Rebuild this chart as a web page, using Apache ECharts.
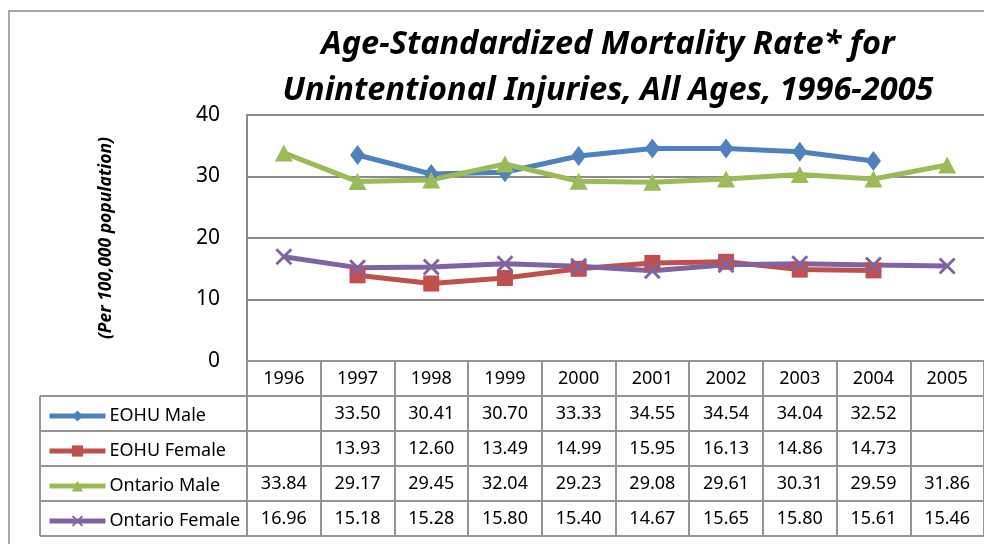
<!DOCTYPE html>
<html>
<head>
<meta charset="utf-8">
<script src="https://cdn.jsdelivr.net/npm/echarts@6/dist/echarts.min.js"></script>
<style>
  html, body { margin: 0; padding: 0; background: #fff; }
  #chart { width: 984px; height: 544px; }
</style>
</head>
<body>
<div id="chart"></div>
<script>
  const years = ['1996', '1997', '1998', '1999', '2000', '2001', '2002', '2003', '2004', '2005']
  const eohuMale = [null, 33.50, 30.41, 30.70, 33.33, 34.55, 34.54, 34.04, 32.52, null]
  const eohuFemale = [null, 13.93, 12.60, 13.49, 14.99, 15.95, 16.13, 14.86, 14.73, null]
  const ontarioMale = [33.84, 29.17, 29.45, 32.04, 29.23, 29.08, 29.61, 30.31, 29.59, 31.86]
  const ontarioFemale = [16.96, 15.18, 15.28, 15.80, 15.40, 14.67, 15.65, 15.80, 15.61, 15.46]
  const yTicks = [0, 10, 20, 30, 40]

  const seriesNames = ['EOHU Male', 'EOHU Female', 'Ontario Male', 'Ontario Female']
  const rows = [eohuMale, eohuFemale, ontarioMale, ontarioFemale]
  const colors = ['#4F81BD', '#C0504D', '#9BBB59', '#8064A2']

  const FONT = '"Noto Sans", "Open Sans", sans-serif'
  const GRID_LINE = '#8A8A8A'
  const TABLE_LINE = '#959595'
  const ROW_H = 35

  const xMark = 'path://M0,1.2 L1.2,0 L10,8.8 L8.8,10 Z M8.8,0 L10,1.2 L1.2,10 L0,8.8 Z'

  let chart = echarts.init(document.getElementById('chart'))

  // header axis: years, ticks drawn down through the table as column borders
  let xAxes = [{
    type: 'category',
    data: years,
    gridIndex: 0,
    position: 'bottom',
    boundaryGap: true,
    axisLine: { show: true, lineStyle: { color: TABLE_LINE, width: 2 } },
    axisTick: { show: true, interval: 0, length: ROW_H * 5, lineStyle: { color: TABLE_LINE, width: 2 } },
    axisLabel: { interval: 0, margin: 9, color: '#000', fontSize: 18, fontFamily: FONT }
  }]
  // one axis per table row, the row's values as its labels
  rows.forEach(function(row, k) {
    xAxes.push({
      type: 'category',
      data: years,
      gridIndex: 0,
      position: 'bottom',
      offset: ROW_H * (k + 1),
      axisLine: { show: true, lineStyle: { color: TABLE_LINE, width: 2 } },
      axisTick: { show: false },
      axisLabel: {
        interval: 0, margin: 9, color: '#000', fontSize: 18, fontFamily: FONT,
        formatter: function(v, i) { return row[i] == null ? '' : row[i].toFixed(2) }
      }
    })
  })
  // bottom border of the table
  xAxes.push({
    type: 'category',
    data: years,
    gridIndex: 0,
    position: 'bottom',
    offset: ROW_H * 5,
    axisLine: { show: true, lineStyle: { color: TABLE_LINE, width: 2 } },
    axisTick: { show: false },
    axisLabel: { show: false }
  })

  // legend cells of the table, left of the plot
  let tableLines = []
  for (let k = 1; k <= 5; k++) {
    tableLines.push({
      type: 'line',
      shape: { x1: 40, y1: 361 + ROW_H * k, x2: 247, y2: 361 + ROW_H * k },
      style: { stroke: TABLE_LINE, lineWidth: 2 }
    })
  }
  tableLines.push({
    type: 'line',
    shape: { x1: 40, y1: 361 + ROW_H, x2: 40, y2: 361 + ROW_H * 5 },
    style: { stroke: TABLE_LINE, lineWidth: 2 }
  })

  let option = {
    animation: false,
    backgroundColor: '#fff',
    title: {
      text: 'Age-Standardized Mortality Rate* for\nUnintentional Injuries, All Ages, 1996-2005',
      left: 603,
      top: 17,
      textAlign: 'center',
      textStyle: {
        fontFamily: FONT, fontSize: 32.5, fontWeight: 'bold', fontStyle: 'italic',
        color: '#000', lineHeight: 46
      }
    },
    graphic: [{
      type: 'rect',
      shape: { x: 9, y: 11, width: 1100, height: 600 },
      style: { fill: 'none', stroke: '#8A8A8A', lineWidth: 1.5 },
      silent: true
    }].concat(tableLines),
    legend: {
      orient: 'vertical',
      left: 42,
      top: 361 + ROW_H + 5,
      itemWidth: 56,
      itemHeight: 14,
      itemGap: 15,
      data: seriesNames,
      lineStyle: { width: 5 },
      textStyle: { fontFamily: FONT, fontSize: 18, color: '#000', lineHeight: 20, height: 20, padding: [0, 0, 0, -1] }
    },
    grid: {
      left: 247,
      top: 115,
      width: 750,
      height: 246
    },
    xAxis: xAxes,
    yAxis: {
      type: 'value',
      min: yTicks[0],
      max: yTicks[yTicks.length - 1],
      interval: 10,
      name: '(Per 100,000 population)',
      nameLocation: 'middle',
      nameRotate: 90,
      nameGap: 132,
      nameTextStyle: { fontFamily: FONT, fontSize: 17.5, fontWeight: 'bold', fontStyle: 'italic', color: '#000' },
      axisLine: { show: true, lineStyle: { color: GRID_LINE, width: 2 } },
      axisTick: { show: false },
      axisLabel: { margin: 27, color: '#000', fontSize: 21, fontFamily: FONT },
      splitLine: { show: true, lineStyle: { color: GRID_LINE, width: 2 } }
    },
    series: [
      {
        name: seriesNames[0], type: 'line', data: eohuMale,
        symbol: 'diamond', symbolSize: [15, 20],
        lineStyle: { color: colors[0], width: 5 },
        itemStyle: { color: colors[0] }
      },
      {
        name: seriesNames[1], type: 'line', data: eohuFemale,
        symbol: 'rect', symbolSize: 16,
        lineStyle: { color: colors[1], width: 5 },
        itemStyle: { color: colors[1] }
      },
      {
        name: seriesNames[2], type: 'line', data: ontarioMale,
        symbol: 'triangle', symbolSize: [18, 17],
        lineStyle: { color: colors[2], width: 5 },
        itemStyle: { color: colors[2] }
      },
      {
        name: seriesNames[3], type: 'line', data: ontarioFemale,
        symbol: xMark, symbolSize: 17,
        lineStyle: { color: colors[3], width: 5 },
        itemStyle: { color: colors[3] }
      }
    ]
  }

  chart.setOption(option)
  window.addEventListener('resize', function() {
    chart.resize()
  })
</script>
</body>
</html>
